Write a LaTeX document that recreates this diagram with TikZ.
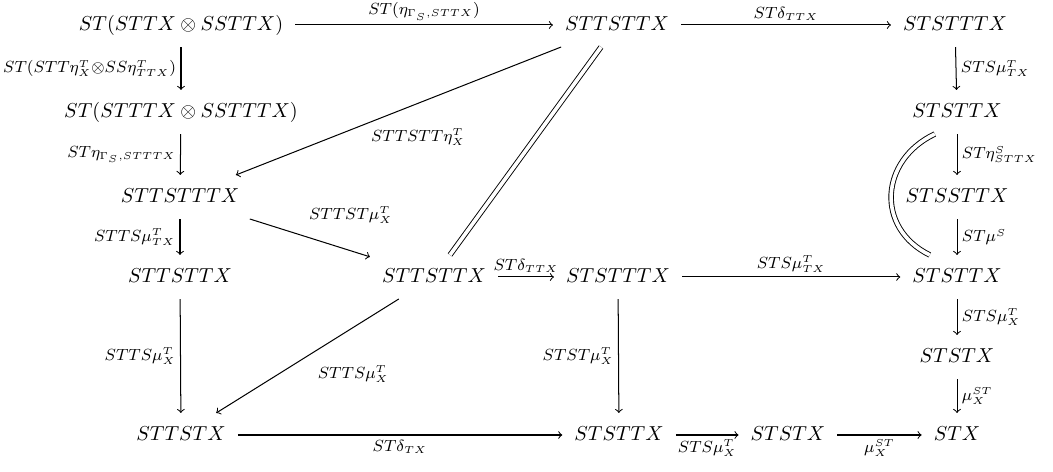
\documentclass[tikz,border=0pt]{standalone}
\usepackage{amsmath,amssymb}
\newcommand\mylab[1]{{\fontsize{11}{13}\selectfont$\scriptstyle #1$}}
\begin{document}
\begin{tikzpicture}[x=0.495pt,y=-0.495pt,
  obj/.style={inner xsep=5.8pt, inner ysep=6.2pt, text height=7pt, text depth=2pt},
  lbl/.style={inner sep=2.2pt},
  arr/.style={->, line width=0.5pt},
  eqline/.style={double, double distance=1.8pt, line width=0.45pt}]
\useasboundingbox (0,0) rectangle (1053,472);
\node[obj] (A1) at (181,25) {$ST(STTX\otimes SSTTX)$};
\node[obj] (A2) at (617,25) {$STTSTTX$};
\node[obj] (A3) at (955,25) {$STSTTTX$};
\node[obj] (B1) at (181,112) {$ST(STTTX\otimes SSTTTX)$};
\node[obj] (B3) at (957,112) {$STSTTX$};
\node[obj] (C1) at (180,197) {$STTSTTTX$};
\node[obj] (C3) at (957,197) {$STSSTTX$};
\node[obj] (D1) at (180,277) {$STTSTTX$};
\node[obj] (D2) at (434,277) {$STTSTTX$};
\node[obj] (D2b) at (618,277) {$STSTTTX$};
\node[obj] (D3) at (957,277) {$STSTTX$};
\node[obj] (E3) at (957,357) {$STSTX$};
\node[obj] (F1) at (181,435) {$STTSTX$};
\node[obj] (F2) at (619,435) {$STSTTX$};
\node[obj] (F2b) at (788,435) {$STSTX$};
\node[obj] (F3) at (957,435) {$STX$};
% top row
\draw[arr] (A1) -- node[lbl,above]{\mylab{ST(\eta_{\Gamma_S,STTX})}} (A2);
\draw[arr] (A2) -- node[lbl,above]{\mylab{ST\delta_{TTX}}} (A3);
% left column
\draw[arr] (A1) -- node[lbl,left]{\mylab{ST(STT\eta^T_X\otimes SS\eta^T_{TTX})}} (B1);
\draw[arr] (B1) -- node[lbl,left]{\mylab{ST\eta_{\Gamma_S,STTTX}}} (C1);
\draw[arr] (C1) -- node[lbl,left]{\mylab{STTS\mu^T_{TX}}} (D1);
\draw[arr] (D1) -- node[lbl,left]{\mylab{STTS\mu^T_X}} (F1);
% right column
\draw[arr] (A3) -- node[lbl,right]{\mylab{STS\mu^T_{TX}}} (B3);
\draw[arr] (B3) -- node[lbl,right]{\mylab{ST\eta^S_{STTX}}} (C3);
\draw[arr] (C3) -- node[lbl,right]{\mylab{ST\mu^S}} (D3);
\draw[arr] (D3) -- node[lbl,right]{\mylab{STS\mu^T_X}} (E3);
\draw[arr] (E3) -- node[lbl,right]{\mylab{\mu^{ST}_X}} (F3);
% diagonals
\draw[arr] (A2) -- node[lbl,pos=0.44,below=10pt]{\mylab{STTSTT\eta^T_X}} (C1);
\draw[arr] (C1) -- node[lbl,pos=0.84,above=11pt]{\mylab{STTST\mu^T_X}} (D2);
\draw[arr] (D2) -- node[lbl,pos=0.47,anchor=north west,yshift=-4pt]{\mylab{STTS\mu^T_X}} (F1);
\draw[eqline] (A2) -- (D2);
\draw[eqline] ([xshift=-11pt]B3.south) .. controls (880,160) and (875,228) .. ([xshift=-13.5pt]D3.north);
% middle row
\draw[arr] (D2) -- node[lbl,above]{\mylab{ST\delta_{TTX}}} (D2b);
\draw[arr] (D2b) -- node[lbl,above]{\mylab{STS\mu^T_{TX}}} (D3);
\draw[arr] (D2b) -- node[lbl,left]{\mylab{STST\mu^T_X}} (F2);
% bottom row
\draw[arr] (F1) -- node[lbl,below]{\mylab{ST\delta_{TX}}} (F2);
\draw[arr] (F2) -- node[lbl,below]{\mylab{STS\mu^T_X}} (F2b);
\draw[arr] (F2b) -- node[lbl,below]{\mylab{\mu^{ST}_X}} (F3);
\end{tikzpicture}
\end{document}
